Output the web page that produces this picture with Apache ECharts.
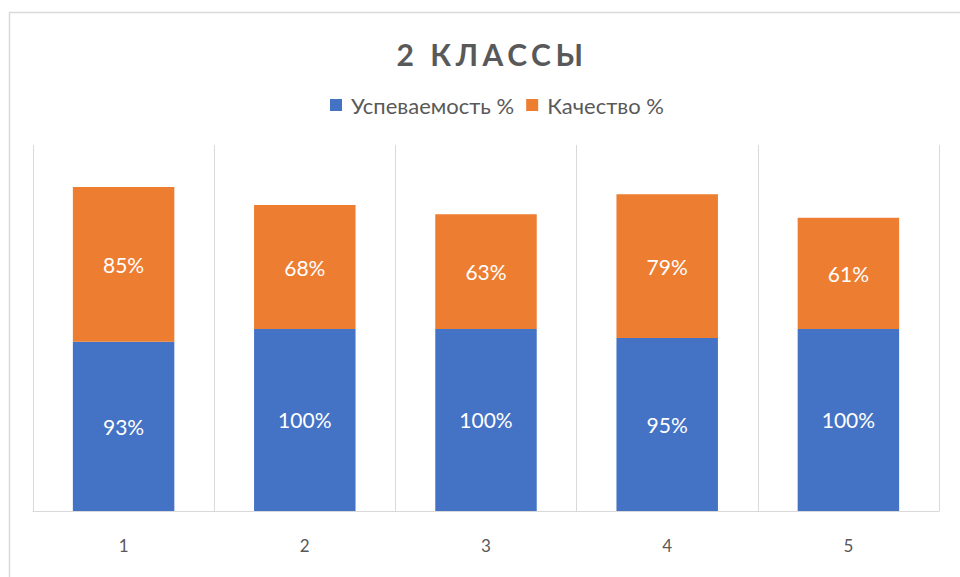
<!DOCTYPE html>
<html>
<head>
<meta charset="utf-8">
<script src="https://cdn.jsdelivr.net/npm/echarts@6/dist/echarts.min.js"></script>
<style>
  html, body { margin: 0; padding: 0; background: #fff; }
  #chart { width: 960px; height: 577px; }
  /* the title is the only bold text: give it the spaced-out caps of the original */
  #chart svg text[style*="bold"] { letter-spacing: 4.5px; }
</style>
</head>
<body>
<div id="chart"></div>
<script>
const categories = ["1", "2", "3", "4", "5"];
const uspevaemost = [93, 100, 100, 95, 100];
const kachestvo = [85, 68, 63, 79, 61];
const seriesNames = ["Успеваемость %", "Качество %"];

const chart = echarts.init(document.getElementById("chart"), null, { renderer: "svg" });

const labelStyle = {
  show: true,
  position: "inside",
  color: "#ffffff",
  fontFamily: "Lato",
  fontSize: 21,
  formatter: (p) => p.value + "%",
};

chart.setOption({
  animation: false,
  backgroundColor: "#ffffff",
  textStyle: { fontFamily: "Lato" },
  title: {
    text: "2 КЛАССЫ",
    left: 487,
    top: 34,
    textAlign: "center",
    textStyle: {
      fontFamily: "Lato",
      fontSize: 30,
      fontWeight: "bold",
      color: "#595959",
    },
  },
  legend: {
    data: seriesNames,
    left: 325,
    top: 89,
    itemWidth: 12,
    itemHeight: 12,
    itemGap: 12,
    icon: "rect",
    textStyle: { fontFamily: "Lato", fontSize: 22, color: "#595959", padding: [0, 0, 0, 4] },
  },
  grid: { left: 33, right: 21, top: 145, bottom: 66 },
  xAxis: {
    type: "category",
    data: categories,
    axisLine: { lineStyle: { color: "#d9d9d9", width: 1 } },
    axisTick: { show: false },
    axisLabel: { color: "#595959", fontSize: 17, fontFamily: "Lato", margin: 26 },
    splitLine: { show: true, interval: 0, lineStyle: { color: "#d9d9d9", width: 1 } },
  },
  yAxis: {
    type: "value",
    min: 0,
    max: 201,
    show: false,
    splitLine: { show: false },
  },
  graphic: [
    {
      type: "rect",
      shape: { x: 9.5, y: 12.5, width: 1000, height: 1000 },
      style: { fill: "none", stroke: "#d9d9d9", lineWidth: 1.5 },
      silent: true,
    },
  ],
  series: [
    {
      name: seriesNames[0],
      type: "bar",
      stack: "total",
      barWidth: "56%",
      itemStyle: { color: "#4472c4" },
      label: labelStyle,
      data: uspevaemost,
    },
    {
      name: seriesNames[1],
      type: "bar",
      stack: "total",
      barWidth: "56%",
      itemStyle: { color: "#ed7d31" },
      label: labelStyle,
      data: kachestvo,
    },
  ],
});
</script>
</body>
</html>
